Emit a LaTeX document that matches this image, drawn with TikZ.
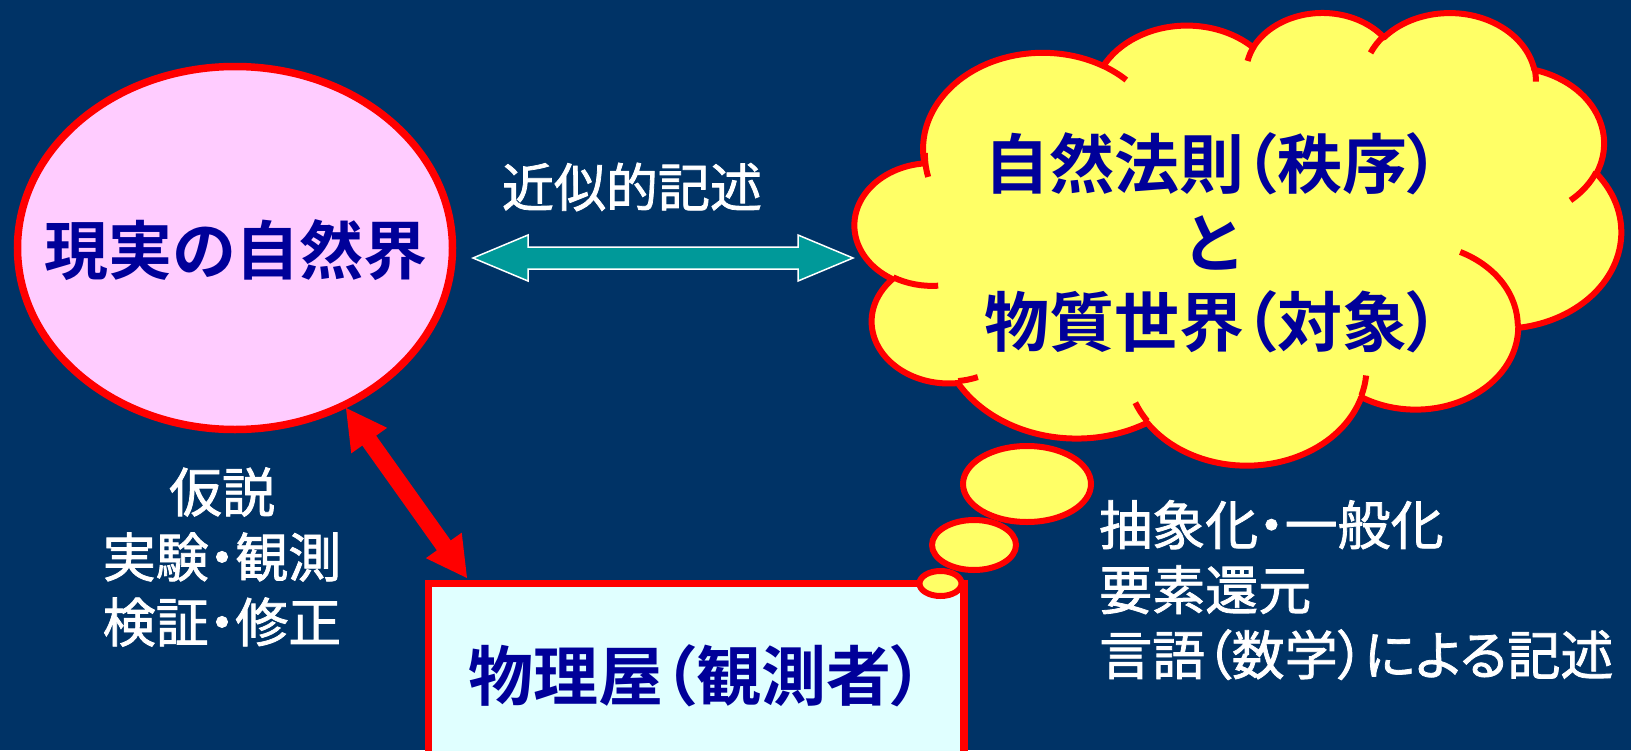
\documentclass[tikz,border=0pt]{standalone}
\usepackage{fontspec}
\usetikzlibrary{calc,shapes.geometric}
\newfontfamily\jpb{Noto Sans CJK JP Bold}[RawFeature=+palt]
\newfontfamily\jpbn{Noto Sans CJK JP Bold}
\newfontfamily\jpw{Noto Sans CJK JP}[RawFeature=+palt, FakeBold=1.5]
\definecolor{bg}{HTML}{003366}
\definecolor{navy}{HTML}{000099}
\definecolor{pinkfill}{HTML}{FFCCFF}
\definecolor{cyanfill}{HTML}{E0FFFF}
\definecolor{cloudy}{HTML}{FFFF66}
\definecolor{tealf}{HTML}{009999}
% OOXML arcTo (visual angles) -> parametric angles for TikZ
\newcommand\ooprep[5]{%
  \pgfmathsetmacro\ootmpS{atan2(#2*sin(#4),#3*cos(#4))}%
  \pgfmathsetmacro\ootmpE{atan2(#2*sin(#4+#5),#3*cos(#4+#5))}%
  \pgfmathsetmacro\ootmpE{\ootmpE+360*(\ootmpE<\ootmpS)}%
  \expandafter\let\csname oo#1s\endcsname\ootmpS
  \expandafter\let\csname oo#1e\endcsname\ootmpE}
\ooprep{A}{67.53}{91.90}{-190.48748}{123.78053}
\ooprep{B}{53.33}{72.67}{-144.10238}{89.94523}
\ooprep{C}{43.65}{59.45}{-145.80792}{99.72302}
\ooprep{D}{48.57}{65.95}{-130.98607}{117.24173}
\ooprep{E}{53.33}{72.73}{-78.70888}{109.02692}
\ooprep{F}{67.75}{92.20}{-46.26725}{130.26900}
\ooprep{G}{57.85}{78.67}{0.62502}{114.03333}
\ooprep{H}{67.52}{92.15}{22.45160}{115.17255}
\ooprep{I}{77.20}{105.43}{66.24263}{75.71102}
\ooprep{J}{43.60}{59.18}{-274.94208}{146.73557}
\ooprep{K}{43.45}{59.45}{-246.82850}{152.51885}
\ooprep{a}{43.45}{59.45}{86.74200}{26.42950}
\ooprep{b}{43.60}{59.18}{73.61047}{11.44747}
\ooprep{c}{67.52}{92.15}{137.62415}{14.08110}
\ooprep{d}{67.52}{92.15}{6.45327}{15.99835}
\ooprep{e}{57.85}{78.67}{-70.29235}{70.91737}
\ooprep{f}{53.33}{72.73}{30.31803}{27.75150}
\ooprep{g}{48.57}{65.95}{-13.74433}{14.86447}
\ooprep{h}{48.57}{65.95}{-149.18145}{18.19617}
\ooprep{i}{43.65}{59.45}{-163.49427}{17.68810}
\ooprep{j}{67.53}{91.90}{-66.70695}{12.31935}
\ooprep{k}{67.53}{91.90}{162.04640}{19.42625}
\begin{document}
\begin{tikzpicture}[x=1pt,y=-1pt,
  bluetxt/.style={text=navy, font=\jpb\fontsize{65pt}{79pt}\selectfont, inner sep=0pt},
  whitetxt/.style={text=white, font=\jpw\fontsize{53pt}{65pt}\selectfont, inner sep=0pt},
  bubble/.style={ellipse, draw=red, fill=cloudy, line width=6pt, inner sep=0pt, outer sep=0pt},
  oa/.style 2 args={x radius=#1, y radius=#2}]
\useasboundingbox (0,0) rectangle (1631,750);
\fill[bg] (0,0) rectangle (1631,750);

% real nature (ellipse)
\node[ellipse, draw=red, fill=pinkfill, line width=7.5pt, minimum width=435pt,
      minimum height=363pt, inner sep=0pt, outer sep=0pt] (nature) at (235,248) {};
\node[text=navy, inner sep=0pt, font=\jpbn\fontsize{64pt}{70pt}\selectfont]
  (naturetxt) at (236,250) {現実の自然界};

% cloud (PowerPoint cloud geometry)
\begin{scope}[shift={(855,11.5)}, x=1.7731pt, y=-1.0475pt]
  \path[draw=red, fill=cloudy, line width=6pt, line join=round] (39.00,143.70)
    arc[oa={67.53}{91.90}, start angle=\ooAs, end angle=\ooAe]
    arc[oa={53.33}{72.67}, start angle=\ooBs, end angle=\ooBe]
    arc[oa={43.65}{59.45}, start angle=\ooCs, end angle=\ooCe]
    arc[oa={48.57}{65.95}, start angle=\ooDs, end angle=\ooDe]
    arc[oa={53.33}{72.73}, start angle=\ooEs, end angle=\ooEe]
    arc[oa={67.75}{92.20}, start angle=\ooFs, end angle=\ooFe]
    arc[oa={57.85}{78.67}, start angle=\ooGs, end angle=\ooGe]
    arc[oa={67.52}{92.15}, start angle=\ooHs, end angle=\ooHe]
    arc[oa={77.20}{105.43}, start angle=\ooIs, end angle=\ooIe]
    arc[oa={43.60}{59.18}, start angle=\ooJs, end angle=\ooJe]
    arc[oa={43.45}{59.45}, start angle=\ooKs, end angle=\ooKe]
    -- cycle;
  \draw[red, line width=6pt]
    (46.93,261.77) arc[oa={43.45}{59.45}, start angle=\ooas, end angle=\ooae]
    (69.28,348.99) arc[oa={43.60}{59.18}, start angle=\oobs, end angle=\oobe]
    (164.78,390.90) arc[oa={67.52}{92.15}, start angle=\oocs, end angle=\ooce]
    (288.27,347.51) arc[oa={67.52}{92.15}, start angle=\oods, end angle=\oode]
    (341.29,229.54) arc[oa={57.85}{78.67}, start angle=\ooes, end angle=\ooee]
    (417.98,153.54) arc[oa={53.33}{72.73}, start angle=\oofs, end angle=\oofe]
    (383.24,54.26) arc[oa={48.57}{65.95}, start angle=\oogs, end angle=\ooge]
    (290.78,39.52) arc[oa={48.57}{65.95}, start angle=\oohs, end angle=\oohe]
    (221.41,47.20) arc[oa={43.65}{59.45}, start angle=\oois, end angle=\ooie]
    (140.00,51.92) arc[oa={67.53}{91.90}, start angle=\oojs, end angle=\ooje]
    (41.27,157.89) arc[oa={67.53}{91.90}, start angle=\ooks, end angle=\ooke];
\end{scope}
\node[bluetxt, align=center] (law) at (1212,243)
  {自然法則（秩序）\\と\\物質世界（対象）};

% physicist box
\node[rectangle, draw=red, fill=cyanfill, line width=7.5pt, minimum width=535.5pt,
      minimum height=185pt, outer sep=0pt, bluetxt] (phys) at (696,676)
  {物理屋（観測者）};

% thought bubbles
\node[bubble, minimum width=128pt, minimum height=76pt] (b1) at (1027,484) {};
\node[bubble, minimum width=84pt, minimum height=50pt] (b2) at (974,545) {};
\node[bubble, minimum width=42pt, minimum height=25pt] (b3) at (940.5,583.5) {};

% teal double arrow
\coordinate (tA) at (473,258);
\coordinate (tB) at (853,258);
\draw[white, line width=1.5pt, fill=tealf, line join=miter]
  (tA) -- ($(tA)+(55,-23)$) -- ($(tA)+(55,-11)$) -- ($(tB)+(-55,-11)$)
  -- ($(tB)+(-55,-23)$) -- (tB) -- ($(tB)+(-55,23)$) -- ($(tB)+(-55,11)$)
  -- ($(tA)+(55,11)$) -- ($(tA)+(55,23)$) -- cycle;
\node[whitetxt, font=\jpw\fontsize{52pt}{60pt}\selectfont] (approx) at (632,187) {近似的記述};

% red double arrow
\coordinate (rA) at (346,408);
\coordinate (rB) at (467,578);
\fill[red]
  (rA) -- ($(rA)!40pt!(rB)!22pt!90:(rB)$) -- ($(rA)!40pt!(rB)!8.5pt!90:(rB)$)
  -- ($(rB)!40pt!(rA)!8.5pt!-90:(rA)$) -- ($(rB)!40pt!(rA)!22pt!-90:(rA)$)
  -- (rB) -- ($(rB)!40pt!(rA)!22pt!90:(rA)$) -- ($(rB)!40pt!(rA)!8.5pt!90:(rA)$)
  -- ($(rA)!40pt!(rB)!8.5pt!-90:(rB)$) -- ($(rA)!40pt!(rB)!22pt!-90:(rB)$) -- cycle;

% labels
\node[whitetxt, align=center] (method) at (222,557) {仮説\\実験・観測\\検証・修正};
\node[whitetxt, align=left, anchor=west] (abstr) at (1099,590)
  {抽象化・一般化\\要素還元\\言語（数学）による記述};
\end{tikzpicture}
\end{document}
